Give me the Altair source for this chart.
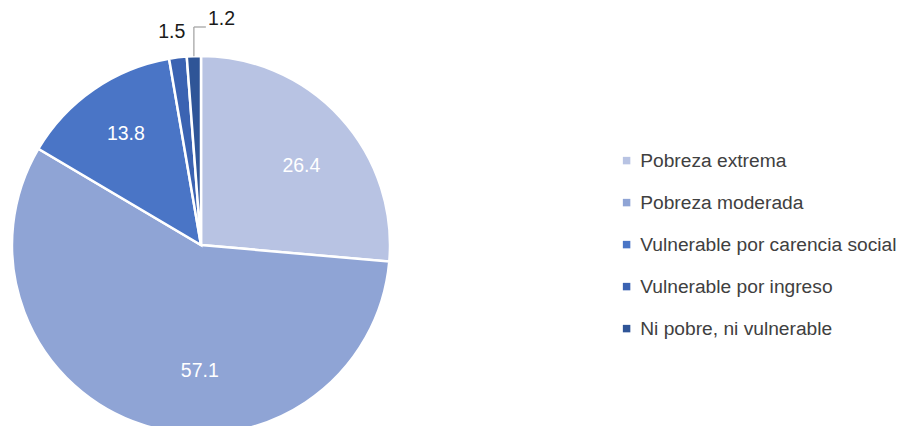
import math
import altair as alt
import pandas as pd

categories = ["Pobreza extrema", "Pobreza moderada", "Vulnerable por carencia social",
              "Vulnerable por ingreso", "Ni pobre, ni vulnerable"]
values = [26.4, 57.1, 13.8, 1.5, 1.2]
colors = ["#B8C3E3", "#8FA4D5", "#4A75C6", "#3B63B2", "#2F5597"]

df = pd.DataFrame({"cat": categories, "val": values, "idx": list(range(len(values)))})
df["lbl"] = [f"{v:.1f}" for v in values]

FONT = "Liberation Sans"
FS = 19.5
CX, CY, R = 193, 237, 189

base = alt.Chart(df).encode(
    theta=alt.Theta("val:Q", stack=True),
    order=alt.Order("idx:Q"),
)

pie = base.mark_arc(outerRadius=R, stroke="white", strokeWidth=2.5).encode(
    x=alt.value(CX), y=alt.value(CY),
    color=alt.Color("cat:N", sort=categories,
                    scale=alt.Scale(domain=categories, range=colors),
                    legend=alt.Legend(title=None, orient="none", legendX=609, legendY=143,
                                      symbolType="square", symbolSize=56, symbolStrokeWidth=0,
                                      labelFont=FONT, labelFontSize=19.2, labelColor="#404040",
                                      labelOffset=4, rowPadding=22, labelLimit=400)),
)


def label_layer(i, radius, dx, dy, color):
    return base.transform_calculate(t=f"datum.idx == {i} ? datum.lbl : ''").mark_text(
        radius=radius, dx=dx, dy=dy, font=FONT, fontSize=FS, color=color
    ).encode(x=alt.value(CX), y=alt.value(CY), text="t:N")


lab0 = label_layer(0, 128, 6, 7, "white")
lab1 = label_layer(1, 128, 38, 4, "white")
lab2 = label_layer(2, 128, -2.5, -5.5, "white")
lab3 = label_layer(3, 214.6, -3, 0, "#1a1a1a")
lab4 = label_layer(4, 226.6, 29, 0, "#1a1a1a")

# leader line for the smallest slice, derived from its mid-angle
mid = 2 * math.pi * (sum(values[:4]) + values[4] / 2) / sum(values)
lx = CX + R * math.sin(mid)
ly = CY - R * math.cos(mid)
top = 19
leader_v = alt.Chart(df.head(1)).mark_rule(color="#A6A6A6", strokeWidth=1.3).encode(
    x=alt.value(lx), y=alt.value(ly), y2=alt.value(top))
leader_h = alt.Chart(df.head(1)).mark_rule(color="#A6A6A6", strokeWidth=1.3).encode(
    x=alt.value(lx), x2=alt.value(lx + 12), y=alt.value(top))

chart = alt.layer(pie, lab0, lab1, lab2, lab3, lab4, leader_v, leader_h).properties(
    width=892, height=418, autosize=alt.AutoSizeParams(type="none"), padding=0
).configure_view(stroke=None)

chart.save("out.html", embed_options={"renderer": "svg", "actions": False})
